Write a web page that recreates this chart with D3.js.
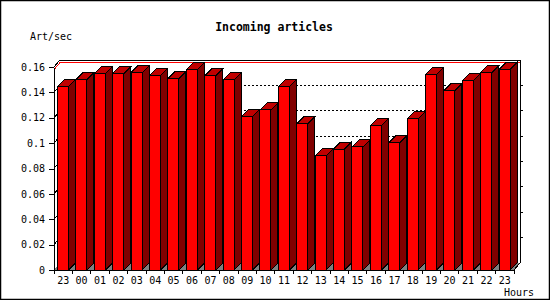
<!DOCTYPE html>
<html>
<head>
<meta charset="utf-8">
<script src="https://cdn.jsdelivr.net/npm/d3@7"></script>
<style>
  body { margin: 0; background: #fff; }
  svg { display: block; }
  text { font-family: "DejaVu Sans Mono", monospace; }
</style>
</head>
<body>
<svg id="chart" width="550" height="300"></svg>
<script>
// hours along the x axis (first slot is the previous day's 23)
var hours = ["23","00","01","02","03","04","05","06","07","08","09","10","11","12","13","14","15","16","17","18","19","20","21","22","23"]
// articles per second
var rates = [0.1445, 0.150, 0.1548, 0.1548, 0.1556, 0.1532, 0.1509, 0.158, 0.1532, 0.150, 0.1209, 0.1262, 0.1446, 0.1151, 0.0901, 0.0953, 0.097, 0.1138, 0.1003, 0.1193, 0.154, 0.1414, 0.149, 0.1556, 0.158]
var yTicks = [0, 0.02, 0.04, 0.06, 0.08, 0.1, 0.12, 0.14, 0.16]

const width = 550, height = 300
const plot = {left: 54, right: 514, top: 67, bottom: 270}
const depth = {dx: 6, dy: 7}   // fake 3d offset

const svg = d3.select('#chart')

// outer frame
svg.append('rect')
  .attr('x', 0.5).attr('y', 0.5)
  .attr('width', width - 1).attr('height', height - 1)
  .attr('fill', '#fff').attr('stroke', '#000').attr('stroke-width', 1.5)

const x = d3.scaleBand().domain(d3.range(rates.length)).range([plot.left, plot.right]).padding(0)
const y = d3.scaleLinear().domain([0, 0.16]).range([plot.bottom, plot.top])

const g = svg.append('g').attr('shape-rendering', 'crispEdges')

// back wall outline (top and right edge) and the floor
const bx0 = plot.left + depth.dx, bx1 = plot.right + depth.dx
g.append('polygon')
  .attr('points', [[plot.left, plot.bottom], [plot.right, plot.bottom], [bx1, plot.bottom - depth.dy], [bx0, plot.bottom - depth.dy]].join(' '))
  .attr('fill', '#808080').attr('stroke', 'none')
g.append('path')
  .attr('d', `M${plot.left},${y(0.16)} L${bx0},${y(0.16) - depth.dy} L${bx1},${y(0.16) - depth.dy} L${bx1},${plot.bottom - depth.dy} L${plot.right},${plot.bottom}`)
  .attr('fill', 'none').attr('stroke', '#000')

// dotted grid on the back wall + small ticks on the right edge
yTicks.filter(t => t > 0 && t < 0.16).forEach(function(t){
  const yy = y(t) - depth.dy
  g.append('line').attr('x1', bx0).attr('x2', bx1).attr('y1', yy).attr('y2', yy)
    .attr('stroke', '#000').attr('stroke-dasharray', '2,2')
  g.append('line').attr('x1', plot.left).attr('y1', y(t)).attr('x2', bx0).attr('y2', yy)
    .attr('stroke', '#000')
  g.append('line').attr('x1', bx1).attr('x2', bx1 + 3).attr('y1', yy).attr('y2', yy)
    .attr('stroke', '#000')
})

// red line at the maximum value
const maxY = y(d3.max(rates))
g.append('path')
  .attr('d', `M${plot.left},${maxY} L${bx0},${maxY - depth.dy} L${bx1},${maxY - depth.dy}`)
  .attr('fill', 'none').attr('stroke', '#ff0000')

// bars: front, top, side
const bw = x.bandwidth()
const fw = bw * 0.6, off = bw * 0.19, bdx = 7, bdy = 7
const bars = g.selectAll('g.bar').data(rates).join('g').attr('class', 'bar')
bars.append('polygon')
  .attr('points', function(d, i){
    const xr = x(i) + off + fw
    return [[xr, plot.bottom], [xr + bdx, plot.bottom - bdy], [xr + bdx, y(d) - bdy], [xr, y(d)]].join(' ')
  })
  .attr('fill', '#800000').attr('stroke', '#000')
bars.append('polygon')
  .attr('points', function(d, i){
    const xl = x(i) + off, xr = xl + fw
    return [[xl, y(d)], [xl + bdx, y(d) - bdy], [xr + bdx, y(d) - bdy], [xr, y(d)]].join(' ')
  })
  .attr('fill', '#c00000').attr('stroke', '#000')
bars.append('rect')
  .attr('x', (d, i) => x(i) + off)
  .attr('y', d => y(d))
  .attr('width', fw)
  .attr('height', d => plot.bottom - y(d))
  .attr('fill', '#ff0000').attr('stroke', '#000')

// y axis
const yAxis = svg.append('g')
  .attr('transform', `translate(${plot.left},0)`)
  .call(d3.axisLeft(y).tickValues(yTicks).tickSize(5).tickSizeOuter(0).tickPadding(4)
    .tickFormat(d => String(+d.toFixed(2))))
yAxis.selectAll('text').attr('font-size', 10).attr('fill', '#000').attr('font-family', '"DejaVu Sans Mono", monospace')
yAxis.selectAll('line, path').attr('stroke', '#000').attr('shape-rendering', 'crispEdges')

// x axis: base line, ticks at slot edges, labels centred
const xg = svg.append('g').attr('shape-rendering', 'crispEdges')
xg.append('line').attr('x1', plot.left).attr('x2', plot.right).attr('y1', plot.bottom).attr('y2', plot.bottom).attr('stroke', '#000')
d3.range(rates.length + 1).forEach(function(i){
  const xx = i < rates.length ? x(i) : plot.right
  xg.append('line').attr('x1', xx).attr('x2', xx).attr('y1', plot.bottom).attr('y2', plot.bottom + 4).attr('stroke', '#000')
})
svg.append('g').selectAll('text').data(hours).join('text')
  .attr('x', (d, i) => x(i) + bw / 2)
  .attr('y', 284)
  .attr('text-anchor', 'middle')
  .attr('font-size', 10)
  .text(d => d)

// titles
svg.append('text').attr('x', 274).attr('y', 31).attr('text-anchor', 'middle')
  .attr('font-size', 11.5).attr('font-weight', 'bold').text('Incoming articles')
svg.append('text').attr('x', 30).attr('y', 40).attr('font-size', 10).text('Art/sec')
svg.append('text').attr('x', 504).attr('y', 296).attr('font-size', 10).text('Hours')
</script>
</body>
</html>
